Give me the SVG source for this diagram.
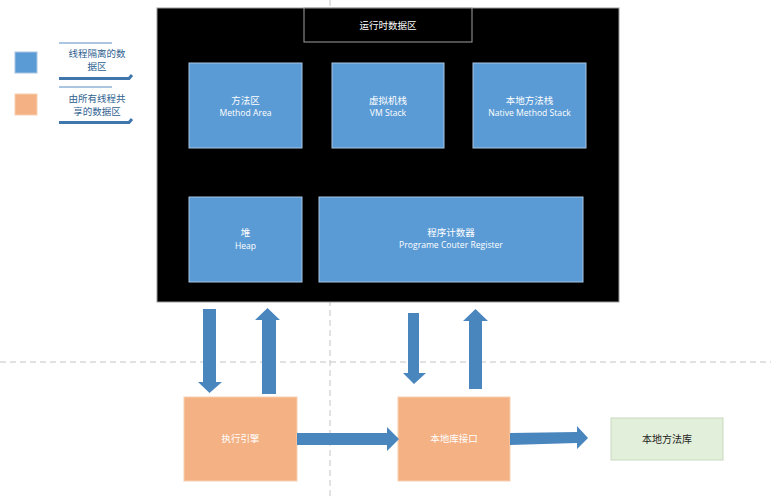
<svg xmlns="http://www.w3.org/2000/svg" width="771" height="499" viewBox="0 0 771 499">
<style>
.dash{stroke:#c4c4c4;stroke-width:1;stroke-dasharray:6,4;fill:none}
.blue{fill:#5b9bd5;stroke:#a9c4e3;stroke-width:1}
.orange{fill:#f4b183;stroke:#f8cfb0;stroke-width:1}
.green{fill:#e2efda;stroke:#c9d9c0;stroke-width:1}
.arrow{fill:#4a86be}
.wt{fill:#ffffff;font-family:"Noto Sans CJK SC",sans-serif;font-size:9.5px;text-anchor:middle}
.we{fill:#ffffff;font-family:"Open Sans","Noto Sans",sans-serif;font-size:8.6px;text-anchor:middle}
.dt{fill:#222222;font-family:"Noto Sans CJK SC",sans-serif;font-size:10px;text-anchor:middle}
.lt{fill:#2e5f8f;font-family:"Noto Sans CJK SC",sans-serif;font-size:9.5px;text-anchor:middle}
.lline{stroke:#8fb3d6;stroke-width:1.5;fill:none}
.lbar{stroke:#3f77ad;stroke-width:3;fill:none}
</style>
<g id="gridlines">
<line class="dash" x1="330" y1="0" x2="330" y2="499"/>
<line class="dash" x1="0" y1="362" x2="771" y2="362"/>
</g>
<g id="legend">
<rect x="15" y="52" width="22" height="21" fill="#5b9bd5" stroke="#a9c4e3"/>
<rect x="15" y="94" width="22" height="21" fill="#f4b183" stroke="#f8cfb0"/>
<line class="lline" x1="59" y1="43" x2="112" y2="43"/>
<text class="lt" x="97" y="56.5">线程隔离的数</text>
<text class="lt" x="97" y="70">据区</text>
<path class="lbar" d="M59 78.5 H129 L132 75"/>
<line class="lline" x1="59" y1="87" x2="112" y2="87"/>
<text class="lt" x="97" y="101.5">由所有线程共</text>
<text class="lt" x="97" y="115">享的数据区</text>
<path class="lbar" d="M59 122.5 H129 L132 119"/>
</g>
<g id="runtime">
<rect x="157" y="8" width="462" height="294" fill="#000000" stroke="#9a9a9a" stroke-width="1"/>
</g>
<g id="title">
<rect x="304" y="8" width="168" height="34" fill="#000000" stroke="#a0a0a0" stroke-width="1"/>
<text class="wt" x="388" y="29" font-size="10">运行时数据区</text>
</g>
<g id="method-area">
<rect class="blue" x="189" y="63" width="113" height="85"/>
<text class="wt" x="245.5" y="104">方法区</text>
<text class="we" x="245.5" y="116">Method Area</text>
</g>
<g id="vm-stack">
<rect class="blue" x="332" y="63" width="112" height="85"/>
<text class="wt" x="388" y="104">虚拟机栈</text>
<text class="we" x="388" y="116">VM Stack</text>
</g>
<g id="native-stack">
<rect class="blue" x="473" y="63" width="113" height="85"/>
<text class="wt" x="529.5" y="104">本地方法栈</text>
<text class="we" x="529.5" y="116">Native Method Stack</text>
</g>
<g id="heap">
<rect class="blue" x="189" y="197" width="113" height="85"/>
<text class="wt" x="245.5" y="236">堆</text>
<text class="we" x="245.5" y="249">Heap</text>
</g>
<g id="pc-register">
<rect class="blue" x="319" y="197" width="264" height="85"/>
<text class="wt" x="451" y="236">程序计数器</text>
<text class="we" x="451" y="248">Programe Couter Register</text>
</g>
<g id="exec-engine">
<rect class="orange" x="184" y="397" width="113" height="84"/>
<text class="wt" x="240.5" y="442">执行引擎</text>
</g>
<g id="native-interface">
<rect class="orange" x="398" y="397" width="112" height="84"/>
<text class="wt" x="454" y="442">本地库接口</text>
</g>
<g id="native-lib">
<rect class="green" x="611" y="418" width="112" height="42"/>
<text class="dt" x="667" y="443">本地方法库</text>
</g>
<g id="connectors">
<polygon class="arrow" points="203,309 216,309 216,382 222,382 209.5,393 198,382 203,382"/>
<polygon class="arrow" points="262,394 276,394 276,320 280,320 267.5,308 255,320 262,320"/>
<polygon class="arrow" points="408,313 419,313 419,373 426,373 414,384 403,373 408,373"/>
<polygon class="arrow" points="469,389 482,389 482,321 488,321 475.5,309 463,321 469,321"/>
<polygon class="arrow" points="297,433 387,433 387,427 399,439 387,451 387,445 297,445"/>
<polygon class="arrow" points="510,433 577,432 577,426 588,438 577,449 577,443 510,445"/>
</g>
</svg>
